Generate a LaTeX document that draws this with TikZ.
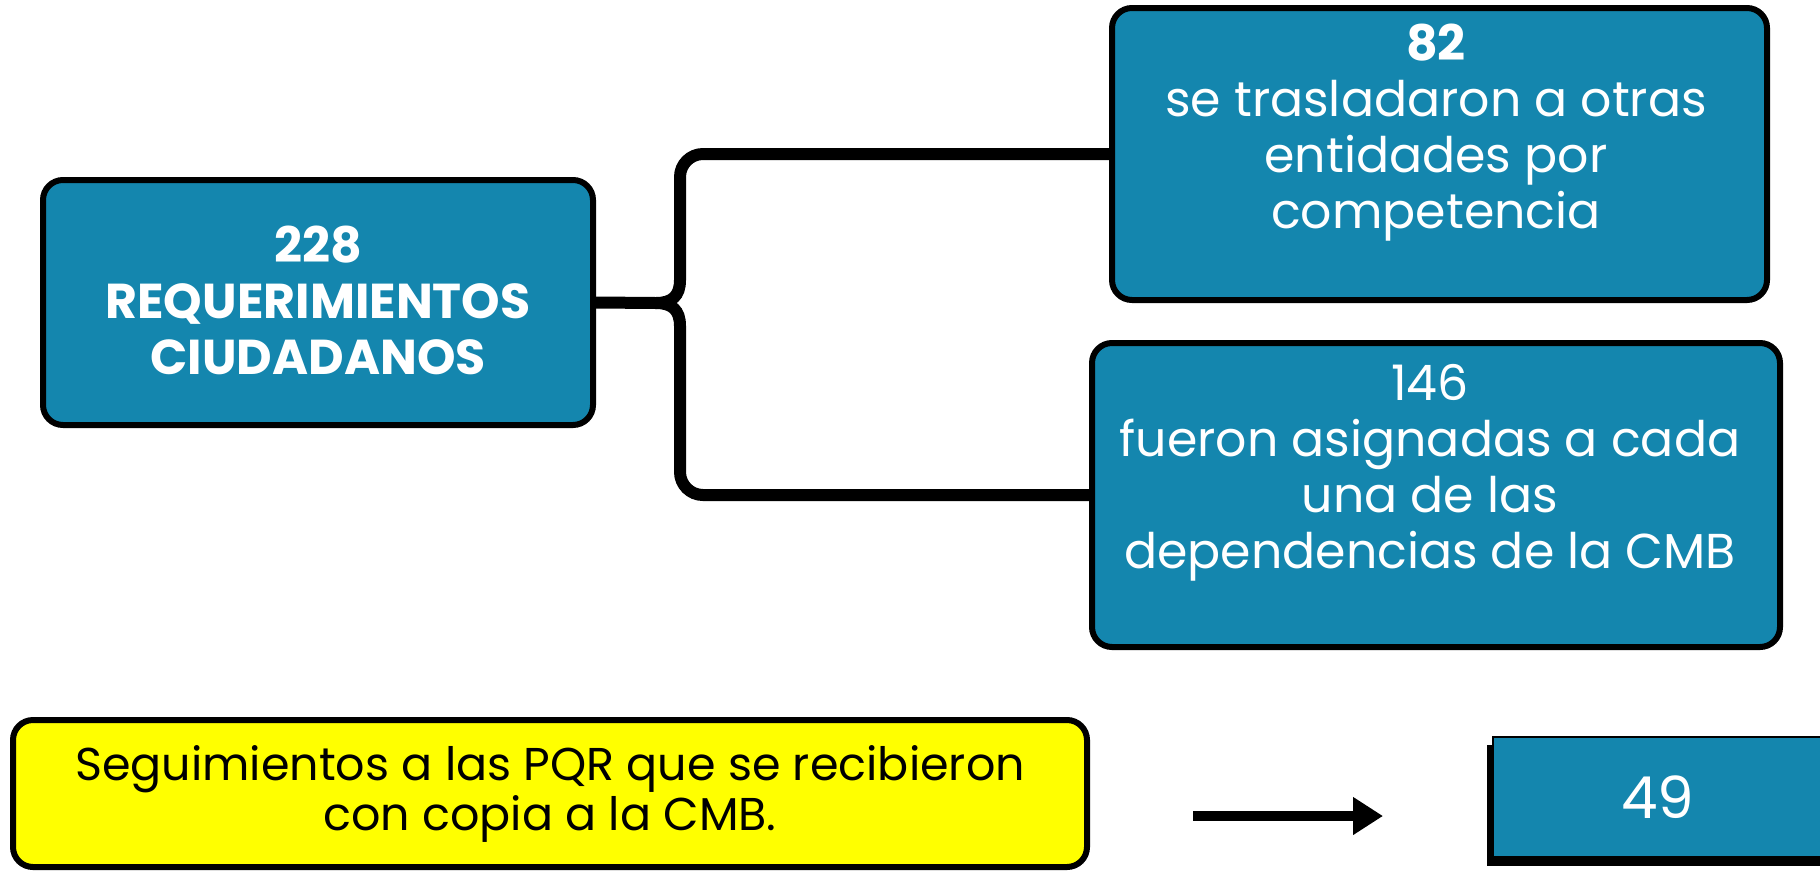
\documentclass[tikz,border=0pt]{standalone}
\usepackage{fontspec}
\setmainfont{Poppins}
\usetikzlibrary{arrows.meta}
\definecolor{boxblue}{RGB}{20,134,174}
\definecolor{boxyellow}{RGB}{255,255,0}
\begin{document}
\begin{tikzpicture}[x=1pt,y=-1pt,
  bluebox/.style={draw=black, line width=6pt, fill=boxblue, rounded corners=20pt, inner sep=0pt},
  yelbox/.style={draw=black, line width=6pt, fill=boxyellow, rounded corners=20pt, inner sep=0pt, align=center, text=black, font=\fontsize{46}{50}\selectfont},
  whitetext/.style={text=white, align=center, inner sep=0pt, font=\fontsize{49}{56}\selectfont},
  conn/.style={draw=black, line width=12pt},
  arr/.style={draw=black, line width=10pt, -{Triangle[length=30pt, width=36pt]}},
  numbox/.style={draw=black, line width=2pt, fill=boxblue, inner sep=0pt, text=white, font=\fontsize{58}{60}\selectfont}
]
\useasboundingbox (0,0) rectangle (1820,871);
% boxes
\node[bluebox, minimum width=550pt, minimum height=245pt] (req) at (318,302.5) {};
\node[whitetext, font=\bfseries\fontsize{49}{56}\selectfont] (reqt) at (318,300) {228\\REQUERIMIENTOS\\CIUDADANOS};
\node[bluebox, minimum width=655pt, minimum height=292pt] (tras) at (1439.5,154) {};
\node[whitetext] (trast) at (1436,133) {{\bfseries 82}\\se trasladaron a otras\\entidades por\\competencia};
\node[bluebox, minimum width=688pt, minimum height=304pt] (asig) at (1436,495) {};
\node[whitetext] (asigt) at (1430,473) {146\\fueron asignadas a cada\\una de las\\dependencias de la CMB};
% brace connectors
\coordinate (cusp) at (656,303);
\coordinate (up) at (680,280);
\coordinate (down) at (680,326);
\draw[conn] (req.east) -- (cusp) .. controls (672,303) and (680,296) .. (up);
\draw[conn] (cusp) .. controls (672,303) and (680,310) .. (down);
\draw[conn, rounded corners=23pt] (up) |- (tras.west);
\draw[conn, rounded corners=23pt] (down) |- (asig.west);
% bottom row
\node[yelbox, minimum width=1074pt, minimum height=147pt] (seg) at (550,793.5) {Seguimientos a las PQR que se recibieron\\con copia a la CMB.};
\coordinate (a1) at (1193,816);
\coordinate (a2) at (1383,816);
\draw[arr] (a1) -- (a2);
\fill[black] (1487,745) rectangle (1830,866);
\node[numbox, minimum width=329pt, minimum height=120pt] (num) at (1657.5,797) {49};
\end{tikzpicture}
\end{document}
